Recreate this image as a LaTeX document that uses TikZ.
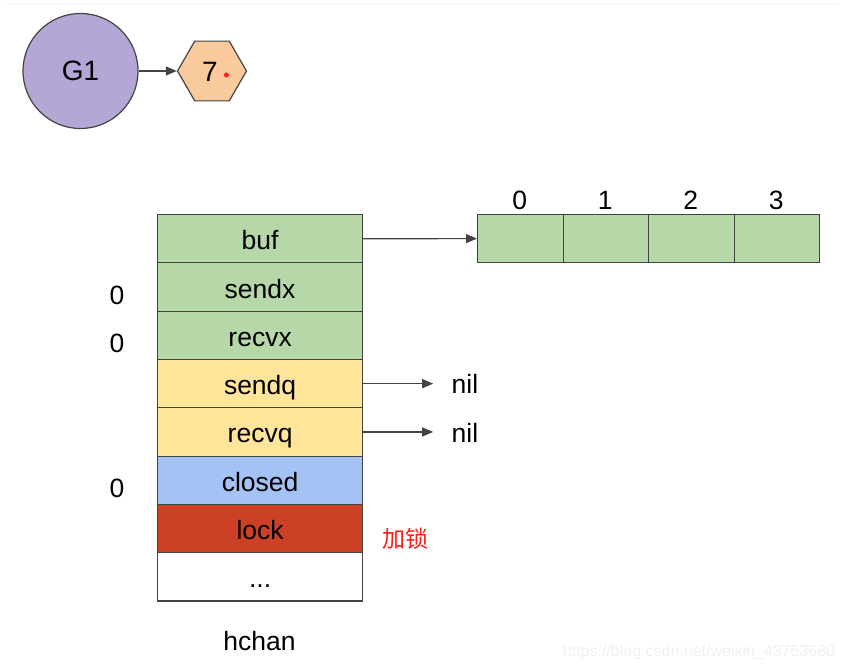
\documentclass[tikz,border=0pt]{standalone}
\usepackage{fontspec}
\setmainfont{Liberation Sans}
\newfontfamily\cjk{Noto Sans CJK SC}
\usetikzlibrary{shapes.geometric,arrows.meta}
\definecolor{gfill}{HTML}{B6D7A8}
\definecolor{yfill}{HTML}{FFE599}
\definecolor{bfill}{HTML}{A4C2F4}
\definecolor{rfill}{HTML}{CC4125}
\definecolor{pfill}{HTML}{B4A7D6}
\definecolor{ofill}{HTML}{F9CB9C}
\definecolor{edge}{HTML}{434343}
\definecolor{arr}{HTML}{434343}
\tikzset{
  every node/.style={font=\fontsize{26.5}{30}\selectfont},
  field/.style={draw=edge, line width=1.2pt, minimum width=205pt, minimum height=48.3pt, inner sep=0pt, text height=22pt, text depth=0pt, anchor=north west},
  cell/.style={draw=edge, line width=1.2pt, fill=gfill, minimum width=85.5pt, minimum height=48pt, inner sep=0pt, anchor=north west},
  link/.style={draw=arr, line width=1.2pt, -{Triangle[length=11pt,width=9pt]}},
  lbl/.style={inner sep=0pt}
}
\begin{document}
\begin{tikzpicture}[x=1pt,y=-1pt]
\useasboundingbox (0,0) rectangle (844,671);
\draw[color=black!4, line width=1pt] (5,5) -- (838,5);
% G1 and hexagon
\node[circle, draw=edge, line width=1.2pt, fill=pfill, minimum size=115pt, inner sep=0pt, font=\fontsize{28}{30}\selectfont] (g1) at (80.5,71) {G1};
\node[regular polygon, regular polygon sides=6, draw=edge, line width=1.2pt, fill=ofill, minimum size=69pt, inner sep=0pt] (hex) at (212,71) {};
\node[lbl, font=\fontsize{28}{30}\selectfont] (seven) at (210,72) {7};
\fill[red!85!white] (226.5,75) circle (2.6pt);
\draw[link] (g1.east) -- (hex.west);
% hchan fields
\node[field, fill=gfill] (buf) at (157,214) {buf};
\node[field, fill=gfill] (sendx) at (157,262.3) {sendx};
\node[field, fill=gfill] (recvx) at (157,310.6) {recvx};
\node[field, fill=yfill] (sendq) at (157,358.9) {sendq};
\node[field, fill=yfill] (recvq) at (157,407.2) {recvq};
\node[field, fill=bfill] (closed) at (157,455.5) {closed};
\node[field, fill=rfill] (lock) at (157,503.8) {lock};
\node[field, fill=white] (dots) at (157,552.1) {...};
\node[lbl] (hchan) at (259.5,641) {hchan};
% left values
\node[lbl] (v1) at (117,295) {0};
\node[lbl] (v2) at (117,343) {0};
\node[lbl] (v3) at (117,488) {0};
% buffer array
\node[cell] (c0) at (477,214) {};
\node[cell] (c1) at (562.5,214) {};
\node[cell] (c2) at (648,214) {};
\node[cell] (c3) at (733.5,214) {};
\node[lbl] (i0) at (519.75,200) {0};
\node[lbl] (i1) at (605.25,200) {1};
\node[lbl] (i2) at (690.75,200) {2};
\node[lbl] (i3) at (776.25,200) {3};
\draw[link] (buf.east) -- (c0.west);
% nil
\node[lbl] (nil1) at (465,384) {nil};
\node[lbl] (nil2) at (465,433) {nil};
\draw[link] (sendq.east) -- ++(70,0) coordinate (e1);
\draw[link] (recvq.east) -- ++(70,0) coordinate (e2);
% lock annotation
\node[lbl, text=red!90!white] (jiasuo) at (405,539) {\cjk\fontsize{23}{28}\selectfont 加锁};
% watermark
\node[lbl, text=black!6, font=\fontsize{16}{20}\selectfont] (wm) at (699,652) {https://blog.csdn.net/weixin\_43753680};
\end{tikzpicture}
\end{document}
